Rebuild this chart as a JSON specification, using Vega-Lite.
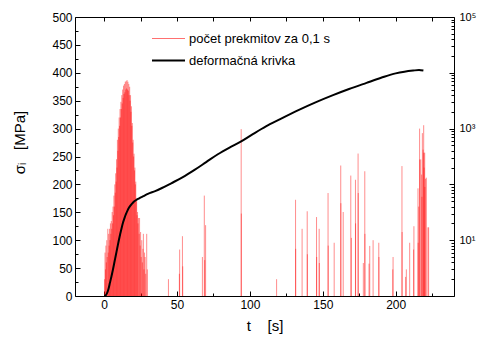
{
  "$schema": "https://vega.github.io/schema/vega-lite/v6.json",
  "width": 379,
  "height": 279,
  "autosize": {"type": "none"},
  "padding": {"left": 75, "top": 17, "right": 23, "bottom": 47},
  "background": "white",
  "config": {
    "font": "Liberation Sans",
    "view": {"stroke": null},
    "axis": {"domainColor": "black", "domainWidth": 1, "tickColor": "black", "labelColor": "black", "titleColor": "black", "labelFont": "Liberation Sans", "titleFont": "Liberation Sans", "grid": false, "labelFontSize": 12, "titleFontWeight": "normal", "titleFontSize": 14}
  },
  "layer": [
    {
      "data": {"values": [
        {"t":0.3,"n":2},{"t":0.6,"n":6},{"t":0.9,"n":3},{"t":1.2,"n":8},{"t":1.5,"n":4},{"t":1.8,"n":10},{"t":2.1,"n":5},{"t":2.5,"n":16},{"t":2.8,"n":6},{"t":3.1,"n":13},{"t":3.4,"n":8},{"t":3.7,"n":16},{"t":4.0,"n":10},{"t":4.3,"n":20},{"t":4.6,"n":13},{"t":4.9,"n":22},{"t":5.2,"n":16},{"t":5.5,"n":32},{"t":5.8,"n":20},{"t":6.1,"n":40},{"t":6.4,"n":28},{"t":6.7,"n":63},{"t":7.0,"n":40},{"t":7.3,"n":100},{"t":7.6,"n":71},{"t":7.9,"n":158},{"t":8.2,"n":112},{"t":8.5,"n":282},{"t":8.8,"n":200},{"t":9.1,"n":630},{"t":9.4,"n":400},{"t":9.7,"n":1000},{"t":10.0,"n":708},{"t":10.3,"n":1580},{"t":10.6,"n":1120},{"t":10.9,"n":2240},{"t":11.2,"n":1580},{"t":11.5,"n":3020},{"t":11.8,"n":2240},{"t":12.1,"n":3980},{"t":12.4,"n":2820},{"t":12.7,"n":5010},{"t":13.0,"n":3550},{"t":13.3,"n":5890},{"t":13.6,"n":4170},{"t":13.9,"n":6310},{"t":14.2,"n":4470},{"t":14.5,"n":6920},{"t":14.8,"n":5010},{"t":15.1,"n":7080},{"t":15.4,"n":5250},{"t":15.7,"n":7410},{"t":16.0,"n":5010},{"t":16.3,"n":6920},{"t":16.6,"n":4790},{"t":16.9,"n":6310},{"t":17.2,"n":3980},{"t":17.5,"n":5620},{"t":17.8,"n":3160},{"t":18.1,"n":3980},{"t":18.4,"n":2000},{"t":18.7,"n":2510},{"t":19.0,"n":1120},{"t":19.3,"n":1260},{"t":19.6,"n":562},{"t":19.9,"n":631},{"t":20.2,"n":316},{"t":20.5,"n":355},{"t":20.8,"n":178},{"t":21.1,"n":200},{"t":21.4,"n":100},{"t":21.7,"n":112},{"t":22.0,"n":56},{"t":22.3,"n":50},{"t":22.6,"n":28},{"t":22.9,"n":32},{"t":23.2,"n":20},{"t":23.6,"n":25},{"t":24.0,"n":13},{"t":24.3,"n":25},{"t":24.7,"n":8},{"t":25.0,"n":14},{"t":25.4,"n":5},{"t":25.8,"n":10},{"t":26.2,"n":4},{"t":26.6,"n":7},{"t":26.9,"n":13},{"t":27.3,"n":3},{"t":27.7,"n":6},{"t":28.1,"n":5},{"t":28.5,"n":2.5},{"t":29.2,"n":13},{"t":29.6,"n":3},
        {"t":44.1,"n":2},{"t":51.6,"n":2.5},{"t":51.8,"n":6.8},{"t":53.7,"n":11.8},{"t":53.9,"n":3.4},{"t":67.4,"n":5},{"t":68.7,"n":63},{"t":69.0,"n":4.4},{"t":69.6,"n":18.6},{"t":94.0,"n":980},{"t":94.1,"n":30},{"t":118.3,"n":2},{"t":131.3,"n":53},{"t":131.4,"n":7},{"t":135.8,"n":16},{"t":139.3,"n":33},{"t":139.4,"n":5.6},{"t":145.7,"n":26},{"t":145.8,"n":5},{"t":147.5,"n":16},{"t":147.6,"n":3.9},{"t":153.6,"n":70},{"t":153.7,"n":8},{"t":157.8,"n":9},{"t":162.3,"n":218},{"t":162.4,"n":46},{"t":164.0,"n":32},{"t":169.2,"n":144},{"t":169.6,"n":11},{"t":172.4,"n":121},{"t":172.5,"n":20},{"t":174.2,"n":357},{"t":174.3,"n":70},{"t":177.8,"n":3.9},{"t":178.8,"n":172},{"t":178.9,"n":13},{"t":181.7,"n":3.8},{"t":182.2,"n":7.9},{"t":184.5,"n":10},{"t":188.4,"n":9},{"t":188.5,"n":5},{"t":198.0,"n":3},{"t":198.2,"n":5},{"t":204.3,"n":213},{"t":204.4,"n":14},{"t":206.8,"n":2.2},{"t":207.3,"n":3},{"t":209.6,"n":9},{"t":212.3,"n":6.8},{"t":212.5,"n":17.8},{"t":215.3,"n":85},{"t":215.4,"n":9},{"t":215.8,"n":40},{"t":216.4,"n":1000},{"t":216.5,"n":280},{"t":217.2,"n":280},{"t":217.8,"n":150},{"t":218.0,"n":60},{"t":218.3,"n":830},{"t":218.8,"n":420},{"t":219.2,"n":1150},{"t":219.3,"n":370},{"t":219.5,"n":200},{"t":219.9,"n":370},{"t":220.0,"n":90},{"t":220.5,"n":126},{"t":221.0,"n":132},{"t":222.1,"n":17},{"t":222.6,"n":17}
      ]},
      "mark": {"type": "rule", "strokeWidth": 1, "opacity": 0.45, "color": "#ff0000"},
      "encoding": {
        "x": {"field": "t", "type": "quantitative", "scale": {"domain": [-20, 240], "nice": false, "zero": false},
              "axis": {"orient": "top", "values": [0,25,50,75,100,125,150,175,200,225], "labels": false, "title": null, "tickSize": -4}},
        "y": {"field": "n", "type": "quantitative", "scale": {"type": "log", "domain": [1, 100000], "nice": false},
              "axis": {"orient": "right", "title": null, "labelFontSize": 11, "labelPadding": 10,
                       "values": [1,2,3,4,5,6,7,8,9,10,20,30,40,50,60,70,80,90,100,200,300,400,500,600,700,800,900,1000,2000,3000,4000,5000,6000,7000,8000,9000,10000,20000,30000,40000,50000,60000,70000,80000,90000,100000],
                       "labelExpr": "datum.value == 10 ? '10¹' : datum.value == 1000 ? '10³' : datum.value == 100000 ? '10⁵' : ''",
                       "tickSize": {"condition": {"test": "datum.value == 1 || datum.value == 10 || datum.value == 100 || datum.value == 1000 || datum.value == 10000 || datum.value == 100000", "value": -5}, "value": -3}}},
        "y2": {"datum": 1}
      }
    },
    {
      "data": {"values": [
        {"t":0,"s":0},{"t":1,"s":1},{"t":2,"s":5},{"t":3,"s":13},{"t":4,"s":24},{"t":5,"s":35},{"t":6,"s":47},{"t":7,"s":60},{"t":8,"s":73},{"t":9,"s":86},{"t":10,"s":99},{"t":11,"s":111},{"t":12,"s":122},{"t":13,"s":132},{"t":14,"s":140},{"t":15,"s":147},{"t":16,"s":153},{"t":17,"s":158},{"t":18,"s":162},{"t":19,"s":165},{"t":20,"s":168},{"t":22,"s":172},{"t":24,"s":175},{"t":27,"s":179},{"t":30,"s":183},{"t":35,"s":188},{"t":40,"s":194},{"t":46,"s":202},{"t":54,"s":213},{"t":62,"s":226},{"t":70,"s":240},{"t":78,"s":254},{"t":86,"s":266},{"t":94,"s":277},{"t":102,"s":290},{"t":111,"s":304},{"t":120,"s":316},{"t":134,"s":334},{"t":145,"s":347},{"t":157,"s":360},{"t":168,"s":371},{"t":180,"s":382},{"t":190,"s":391},{"t":200,"s":399},{"t":206,"s":402},{"t":212,"s":404},{"t":216,"s":405},{"t":219,"s":404}
      ]},
      "mark": {"type": "line", "strokeWidth": 2, "interpolate": "monotone"},
      "encoding": {
        "x": {"field": "t", "type": "quantitative",
              "axis": {"orient": "bottom", "values": [0,25,50,75,100,125,150,175,200,225],
                       "labelExpr": "datum.value % 50 == 0 ? datum.label : ''",
                       "tickSize": {"condition": {"test": "datum.value % 50 == 0", "value": -5}, "value": -3},
                       "labelPadding": 8, "title": "t\u00a0\u00a0\u00a0\u00a0[s]", "titleFontSize": 15, "titlePadding": 8}},
        "y": {"field": "s", "type": "quantitative", "scale": {"domain": [0, 500], "nice": false},
              "axis": {"orient": "left", "values": [0,25,50,75,100,125,150,175,200,225,250,275,300,325,350,375,400,425,450,475,500],
                       "labelExpr": "datum.value % 50 == 0 ? datum.label : ''",
                       "tickSize": {"condition": {"test": "datum.value % 50 == 0", "value": -5}, "value": -3},
                       "labelPadding": 8, "title": "σᵢ\u00a0\u00a0\u00a0[MPa]", "titleFontSize": 15, "titleX": -48, "titleY": 125}},
        "color": {"datum": "deformačná krivka",
                  "scale": {"domain": ["počet prekmitov za 0,1 s", "deformačná krivka"], "range": ["#ff7070", "#000000"]},
                  "legend": {"orient": "none", "legendX": 87, "legendY": 15, "title": null, "symbolType": "M-3.3,0H3.3", "symbolSize": 100, "symbolStrokeWidth": 1, "labelFontSize": 13, "labelFont": "Liberation Sans", "labelColor": "black", "labelOffset": 14, "rowPadding": 8,
                             "encode": {"symbols": {"update": {"strokeWidth": {"signal": "datum.value == 'deformačná krivka' ? 2 : 1"}, "fill": {"value": "transparent"}, "opacity": {"value": 1}}}}}}
      }
    }
  ],
  "resolve": {"scale": {"y": "independent"}, "axis": {"x": "independent"}}
}
